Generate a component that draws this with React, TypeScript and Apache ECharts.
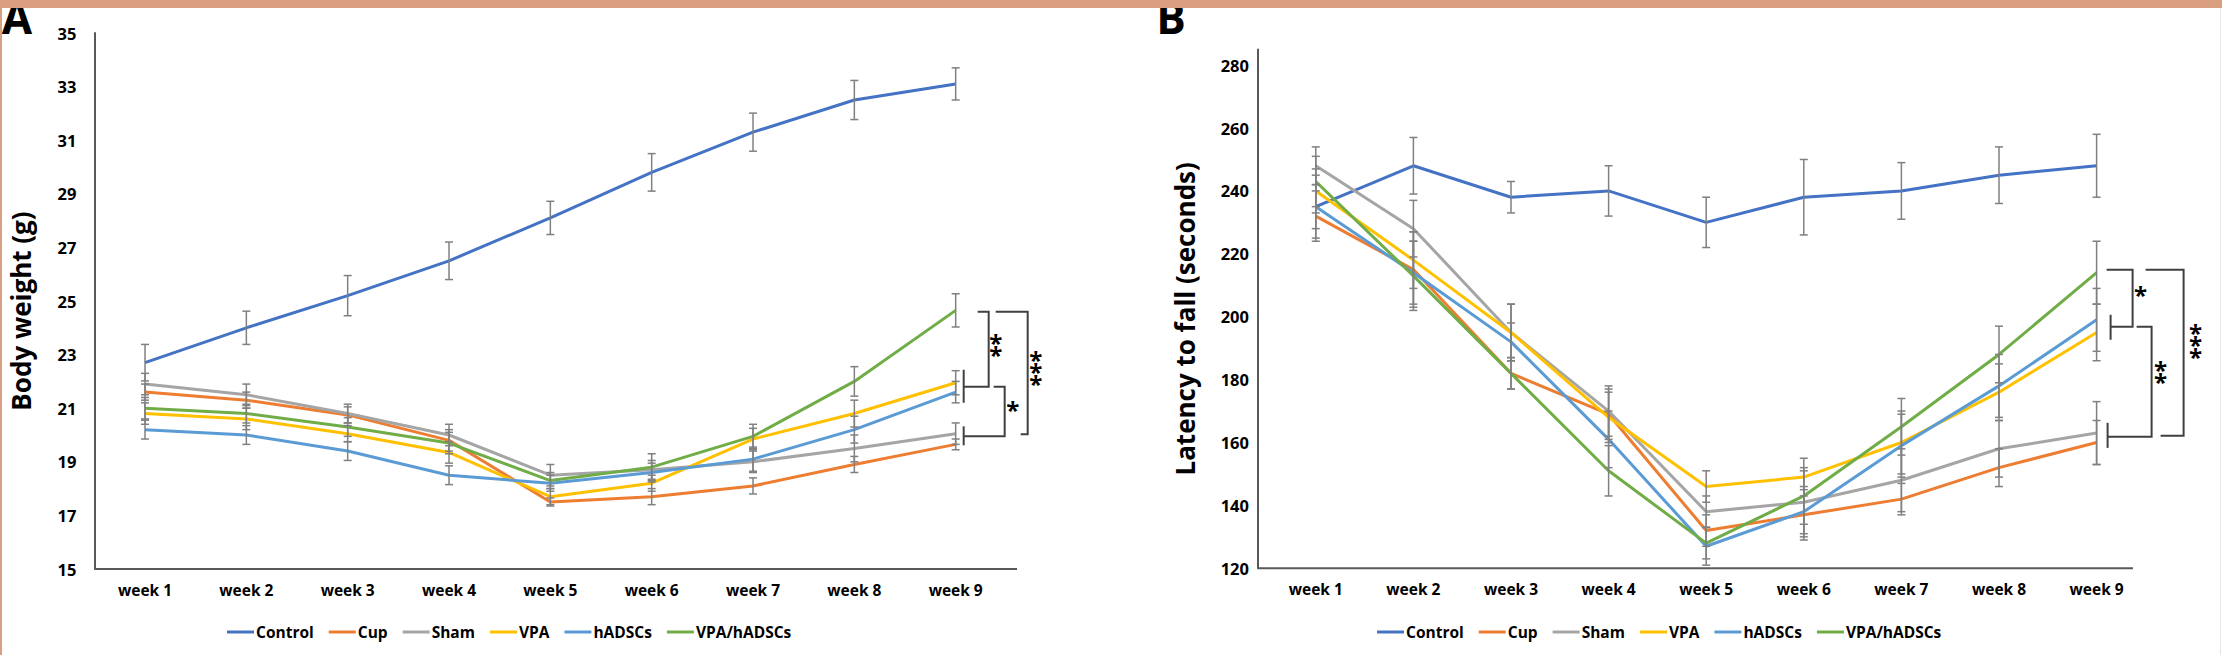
import React, { useEffect, useRef } from "react";
import * as echarts from "echarts";

const weeks = ["week 1", "week 2", "week 3", "week 4", "week 5", "week 6", "week 7", "week 8", "week 9"];
const seriesNames = ["Control", "Cup", "Sham", "VPA", "hADSCs", "VPA/hADSCs"];
const colors = ["#4472C4", "#ED7D31", "#A5A5A5", "#FFC000", "#5B9BD5", "#70AD47"];

// Panel A: body weight (g)
const bwControl = [22.7, 24.0, 25.2, 26.5, 28.1, 29.8, 31.3, 32.5, 33.1];
const bwCup = [21.6, 21.3, 20.75, 19.8, 17.5, 17.7, 18.1, 18.9, 19.65];
const bwSham = [21.9, 21.5, 20.8, 20.0, 18.5, 18.7, 19.0, 19.5, 20.05];
const bwVPA = [20.8, 20.6, 20.05, 19.35, 17.7, 18.2, 19.85, 20.8, 21.95];
const bwHADSCs = [20.2, 20.0, 19.4, 18.5, 18.2, 18.6, 19.1, 20.2, 21.6];
const bwCombo = [21.0, 20.8, 20.3, 19.7, 18.3, 18.8, 19.95, 22.0, 24.65];

const bwErrControl = [0.68, 0.62, 0.75, 0.7, 0.62, 0.7, 0.71, 0.73, 0.6];
const bwErrCup = [0.3, 0.3, 0.3, 0.4, 0.15, 0.3, 0.3, 0.3, 0.2];
const bwErrSham = [0.4, 0.4, 0.35, 0.4, 0.4, 0.35, 0.4, 0.5, 0.4];
const bwErrVPA = [0.4, 0.4, 0.3, 0.4, 0.3, 0.3, 0.4, 0.5, 0.45];
const bwErrHADSCs = [0.35, 0.35, 0.35, 0.35, 0.3, 0.35, 0.45, 0.5, 0.4];
const bwErrCombo = [0.4, 0.35, 0.35, 0.4, 0.3, 0.5, 0.45, 0.55, 0.62];

// Panel B: latency to fall (seconds)
const ltControl = [235, 248, 238, 240, 230, 238, 240, 245, 248];
const ltCup = [232, 215, 182, 169, 132, 137, 142, 152, 160];
const ltSham = [248, 228, 195, 170, 138, 141, 148, 158, 163];
const ltVPA = [240, 218, 195, 168, 146, 149, 160, 176, 195];
const ltHADSCs = [235, 214, 192, 161, 127, 138, 159, 178, 199];
const ltCombo = [243, 213, 182, 151, 128, 143, 165, 188, 214];

const ltErrControl = [10, 9, 5, 8, 8, 12, 9, 9, 10];
const ltErrCup = [8, 12, 5, 8, 5, 8, 5, 6, 7];
const ltErrSham = [6, 9, 9, 8, 5, 10, 10, 9, 10];
const ltErrVPA = [7, 9, 9, 8, 5, 6, 10, 9, 9];
const ltErrHADSCs = [7, 10, 6, 9, 6, 8, 10, 10, 10];
const ltErrCombo = [8, 11, 5, 8, 5, 9, 9, 9, 10];

const yTicksA = { min: 15, max: 35, interval: 2 };
const yTicksB = { min: 120, max: 285, interval: 20 };

const FONT = "'Open Sans'";
const AXIS_COLOR = "#595959";

function errRender(params: any, api: any) {
  const x = api.value(0);
  const y = api.value(1);
  const e = api.value(2);
  const top = api.coord([x, y + e]);
  const bot = api.coord([x, y - e]);
  const hw = 4;
  const style = { stroke: "#808080", lineWidth: 1.5 };
  return {
    type: "group",
    children: [
      { type: "line", shape: { x1: top[0], y1: top[1], x2: bot[0], y2: bot[1] }, style },
      { type: "line", shape: { x1: top[0] - hw, y1: top[1], x2: top[0] + hw, y2: top[1] }, style },
      { type: "line", shape: { x1: bot[0] - hw, y1: bot[1], x2: bot[0] + hw, y2: bot[1] }, style },
    ],
  };
}

export default function App() {
  const ref = useRef<HTMLDivElement>(null);
  useEffect(() => {
    if (!ref.current) return;
    const chart = echarts.init(ref.current, undefined, { renderer: "svg" });

    const valsA = [bwControl, bwCup, bwSham, bwVPA, bwHADSCs, bwCombo];
    const errsA = [bwErrControl, bwErrCup, bwErrSham, bwErrVPA, bwErrHADSCs, bwErrCombo];
    const valsB = [ltControl, ltCup, ltSham, ltVPA, ltHADSCs, ltCombo];
    const errsB = [ltErrControl, ltErrCup, ltErrSham, ltErrVPA, ltErrHADSCs, ltErrCombo];

    const series: any[] = [];
    [valsA, valsB].forEach((vals, g) => {
      const errs = g === 0 ? errsA : errsB;
      vals.forEach((v, i) => {
        series.push({
          type: "line",
          name: seriesNames[i],
          xAxisIndex: g,
          yAxisIndex: g,
          data: v,
          symbol: "none",
          lineStyle: { color: colors[i], width: 3 },
          itemStyle: { color: colors[i] },
          z: 2,
        });
      });
      vals.forEach((v, i) => {
        series.push({
          type: "custom",
          xAxisIndex: g,
          yAxisIndex: g,
          renderItem: errRender,
          data: v.map((val, k) => [k, val, errs[i][k]]),
          encode: { x: 0, y: 1 },
          z: 3,
          silent: true,
        });
      });
    });

    const axisLabelStyle = { color: "#000", fontFamily: FONT, fontWeight: "bold" };
    const nameStyle = { color: "#000", fontFamily: FONT, fontWeight: "bold", fontSize: 26, padding: [0, 20, 0, 0] };
    const legendBase = {
      data: seriesNames,
      orient: "horizontal",
      top: 619,
      icon: "rect",
      itemWidth: 27,
      itemHeight: 3,
      itemGap: 15,
      textStyle: { color: "#000", fontFamily: FONT, fontWeight: "bold", fontSize: 15.5, padding: [0, 0, 0, -3] },
    };

    const option: any = {
      animation: false,
      backgroundColor: "#ffffff",
      grid: [
        { left: 94.35, top: 33, width: 912, height: 536 },
        { left: 1267, top: 49.4, width: 878.4, height: 518.9 },
      ],
      xAxis: [0, 1].map((g) => ({
        type: "category",
        gridIndex: g,
        data: weeks,
        axisLine: { show: false },
        axisTick: { show: false },
        axisLabel: { ...axisLabelStyle, fontSize: 15.5, margin: 13 },
      })),
      yAxis: [
        {
          type: "value",
          gridIndex: 0,
          ...yTicksA,
          name: "Body weight (g)",
          nameLocation: "middle",
          nameGap: 60,
          nameTextStyle: nameStyle,
          axisLine: { show: true, lineStyle: { color: AXIS_COLOR, width: 2 } },
          axisTick: { show: false },
          splitLine: { show: false },
          axisLabel: { ...axisLabelStyle, fontSize: 16.5, margin: 18 },
        },
        {
          type: "value",
          gridIndex: 1,
          ...yTicksB,
          offset: 9,
          name: "Latency to fall (seconds)",
          nameLocation: "middle",
          nameGap: 60,
          nameTextStyle: nameStyle,
          axisLine: { show: true, lineStyle: { color: AXIS_COLOR, width: 2 } },
          axisTick: { show: false },
          splitLine: { show: false },
          axisLabel: {
            ...axisLabelStyle,
            fontSize: 16.5,
            margin: 9,
            formatter: (v: number) => (v % 20 === 0 ? String(v) : ""),
          },
        },
      ],
      legend: [
        { ...legendBase, left: 222 },
        { ...legendBase, left: 1372 },
      ],
      series,
    };
    chart.setOption(option);

    const px = (g: number, x: number, y: number) =>
      chart.convertToPixel({ gridIndex: g } as any, [x, y]) as number[];

    const stroke = { stroke: "#404040", lineWidth: 2, fill: null };
    const poly = (pts: number[][]) => ({ type: "polyline", shape: { points: pts }, style: stroke, z: 10 });
    const ln = (x1: number, y1: number, x2: number, y2: number, color = "#404040") => ({
      type: "line",
      shape: { x1, y1, x2, y2 },
      style: { ...stroke, stroke: color },
      z: 10,
    });
    // stacked asterisks: n stars, first centred at y, 12px apart
    const stars = (x: number, y: number, n: number) => ({
      type: "text",
      x,
      y: y - 8,
      style: {
        text: Array(n).fill("*").join("\n"),
        font: `bold 24px ${FONT}`,
        lineHeight: 12,
        fill: "#000",
        align: "center",
        verticalAlign: "top",
      },
      z: 10,
    });

    // Panel A significance brackets
    const [ax9, aTop] = px(0, 8, 24.6);
    const aMid = px(0, 8, 21.8)[1];
    const aBot = px(0, 8, 19.95)[1];
    // Panel B significance brackets
    const [bx9, bTop] = px(1, 8, 214.9);
    const bMid = px(1, 8, 196.8)[1];
    const bBot = px(1, 8, 161.8)[1];
    const xAxisY_A = px(0, 0, 15)[1];
    const xAxisY_B = px(1, 0, 120)[1];

    const graphic: any[] = [
      // x axis lines
      ln(94.35, xAxisY_A, 1017, xAxisY_A, AXIS_COLOR),
      ln(1258, xAxisY_B, 2133, xAxisY_B, AXIS_COLOR),
      // A
      poly([[ax9 + 22, aTop], [ax9 + 33, aTop], [ax9 + 33, aMid], [ax9 + 8, aMid]]),
      ln(ax9 + 8, aMid - 17, ax9 + 8, aMid + 16),
      poly([[ax9 + 38, aMid], [ax9 + 49, aMid], [ax9 + 49, aBot], [ax9 + 8, aBot]]),
      ln(ax9 + 8, aBot - 10, ax9 + 8, aBot + 9),
      poly([[ax9 + 40, aTop], [ax9 + 72, aTop], [ax9 + 72, aBot - 2], [ax9 + 65, aBot - 2]]),
      stars(ax9 + 40, aTop + 33, 2),
      stars(ax9 + 57, aMid + 25, 1),
      stars(ax9 + 80, aTop + 50, 3),
      // B
      poly([[bx9 + 10, bTop], [bx9 + 36, bTop], [bx9 + 36, bMid], [bx9 + 14, bMid]]),
      ln(bx9 + 14, bMid - 12, bx9 + 14, bMid + 13),
      poly([[bx9 + 40, bMid], [bx9 + 55, bMid], [bx9 + 55, bBot], [bx9 + 11, bBot]]),
      ln(bx9 + 11, bBot - 14, bx9 + 11, bBot + 11),
      poly([[bx9 + 49, bTop], [bx9 + 87, bTop], [bx9 + 87, bBot - 1], [bx9 + 64, bBot - 1]]),
      stars(bx9 + 44, bTop + 27, 1),
      stars(bx9 + 64, bMid + 45, 2),
      stars(bx9 + 99, bTop + 65, 3),
      // panel letters
      {
        type: "text",
        x: 17,
        y: 17,
        style: { text: "A", font: `bold 44px ${FONT}`, fill: "#000", align: "center", verticalAlign: "middle" },
        z: 5,
      },
      {
        type: "text",
        x: 1171,
        y: 17,
        style: { text: "B", font: `bold 44px ${FONT}`, fill: "#000", align: "center", verticalAlign: "middle" },
        z: 5,
      },
      // frame
      { type: "rect", shape: { x: 0, y: 0, width: 2222, height: 8 }, style: { fill: "#DA9E81" }, z: 20 },
      { type: "rect", shape: { x: 0, y: 0, width: 2, height: 655 }, style: { fill: "#DA9E81" }, z: 20 },
      { type: "rect", shape: { x: 2220, y: 8, width: 1, height: 647 }, style: { fill: "#E6E6E6" }, z: 20 },
    ];
    chart.setOption({ graphic });

    return () => chart.dispose();
  }, []);

  return (
    <div
      ref={ref}
      style={{ position: "absolute", left: 0, top: 0, width: 2222, height: 655, background: "#fff" }}
    />
  );
}
